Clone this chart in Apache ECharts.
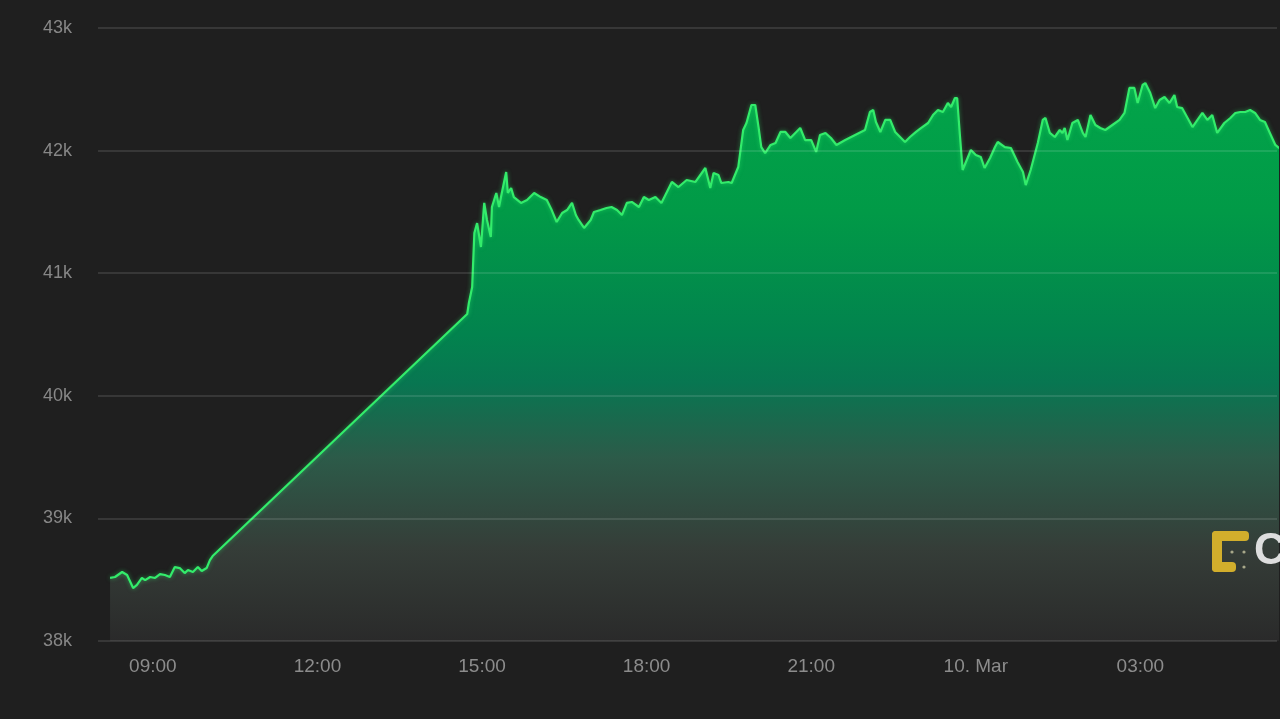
<!DOCTYPE html>
<html>
<head>
<meta charset="utf-8">
<script src="https://cdn.jsdelivr.net/npm/echarts@6/dist/echarts.min.js"></script>
<style>
html,body{margin:0;padding:0;background:#1f1f1f;}
#chart{width:1280px;height:719px;}
</style>
</head>
<body>
<div id="chart"></div>
<script>
// Hours since 00:00 on 9 March (values > 24 are on 10 March)
const hours = [
  8.22, 8.31, 8.44, 8.53, 8.64, 8.71, 8.80, 8.86, 8.95, 9.04, 9.13, 9.22, 9.31, 9.40, 9.49, 9.58, 9.64, 9.73, 9.82, 9.89, 9.98, 10.04, 10.09,
  14.73, 14.76, 14.82, 14.86, 14.91, 14.98, 15.04, 15.09, 15.16, 15.18, 15.26, 15.31, 15.36, 15.44, 15.47, 15.53, 15.58, 15.71, 15.82, 15.95,
  16.07, 16.18, 16.27, 16.36, 16.46, 16.55, 16.64, 16.71, 16.76, 16.86, 16.98, 17.04, 17.16, 17.27, 17.36, 17.46, 17.55, 17.64, 17.73, 17.86,
  17.95, 18.04, 18.16, 18.27, 18.46, 18.58, 18.73, 18.89, 19.07, 19.16, 19.22, 19.31, 19.36, 19.49, 19.55, 19.67, 19.76, 19.82, 19.91, 19.98,
  20.04, 20.09, 20.16, 20.26, 20.35, 20.44, 20.53, 20.62, 20.71, 20.80, 20.89, 21.00, 21.09, 21.16, 21.26, 21.36, 21.46, 21.62, 21.80, 21.98,
  22.07, 22.13, 22.18, 22.26, 22.35, 22.44, 22.53, 22.62, 22.71, 22.80, 22.91, 23.00, 23.13, 23.22, 23.31, 23.40, 23.49, 23.55, 23.62, 23.66,
  23.71, 23.76, 23.82, 23.91, 24.00, 24.09, 24.16, 24.26, 24.35, 24.40, 24.53, 24.64, 24.76, 24.86, 24.91, 25.00, 25.13, 25.22, 25.27, 25.35,
  25.44, 25.53, 25.58, 25.62, 25.67, 25.76, 25.86, 25.95, 26.00, 26.09, 26.18, 26.27, 26.36, 26.49, 26.62, 26.71, 26.80, 26.89, 26.95, 27.04,
  27.09, 27.18, 27.27, 27.35, 27.44, 27.53, 27.62, 27.67, 27.76, 27.86, 27.95, 28.04, 28.13, 28.22, 28.31, 28.40, 28.53, 28.64, 28.73, 28.82,
  28.91, 29.00, 29.09, 29.18, 29.27, 29.36, 29.46, 29.53
];
const prices = [
  38515, 38522, 38563, 38538, 38432, 38457, 38514, 38497, 38522, 38514, 38546, 38538, 38522, 38603, 38595, 38554, 38579, 38563, 38603, 38571, 38595, 38660, 38693,
  40667, 40757, 40887, 41328, 41409, 41214, 41573, 41434, 41295, 41540, 41654, 41540, 41654, 41825, 41654, 41695, 41621, 41573, 41597, 41654,
  41621, 41597, 41515, 41418, 41491, 41515, 41573, 41475, 41434, 41369, 41434, 41499, 41515, 41532, 41540, 41515, 41475, 41573, 41581, 41540,
  41621, 41597, 41621, 41573, 41744, 41703, 41760, 41744, 41858, 41695, 41817, 41801, 41736, 41744, 41736, 41866, 42168, 42225, 42372, 42372,
  42192, 42029, 41980, 42046, 42062, 42152, 42152, 42103, 42144, 42184, 42086, 42086, 41989, 42127, 42144, 42103, 42046, 42086, 42127, 42168,
  42315, 42331, 42233, 42152, 42250, 42250, 42152, 42111, 42070, 42111, 42152, 42184, 42225, 42290, 42331, 42315, 42388, 42356, 42429, 42429,
  42127, 41842, 41907, 42005, 41964, 41948, 41858, 41940, 42029, 42070, 42029, 42021, 41907, 41825, 41719, 41842, 42062, 42250, 42266, 42144,
  42111, 42168, 42144, 42184, 42086, 42225, 42250, 42144, 42111, 42290, 42209, 42184, 42168, 42209, 42250, 42307, 42511, 42511, 42388, 42535,
  42551, 42470, 42347, 42413, 42437, 42388, 42453, 42356, 42347, 42266, 42192, 42250, 42307, 42250, 42290, 42144, 42225, 42266, 42307, 42315,
  42315, 42331, 42307, 42250, 42233, 42144, 42046, 42021
];
const yTicks = [38000, 39000, 40000, 41000, 42000, 43000];
const xTickHours = [9, 12, 15, 18, 21, 24, 27];
const dayLabel = '10. Mar';

const data = hours.map((h, i) => [h, prices[i]]);

const chart = echarts.init(document.getElementById('chart'), null, {renderer: 'canvas'});
const font = '"Liberation Sans", Arial, Helvetica, sans-serif';

chart.setOption({
  backgroundColor: '#1f1f1f',
  animation: false,
  grid: {left: 98, right: 0, top: 28, bottom: 78, containLabel: false},
  xAxis: {
    type: 'value',
    min: 8,
    max: 29.49,
    interval: 1,
    axisLine: {show: false},
    axisTick: {show: false},
    splitLine: {show: false},
    axisLabel: {
      color: '#8c8c8c',
      fontFamily: font,
      fontSize: 19,
      margin: 16,
      showMinLabel: true,
      showMaxLabel: true,
      formatter: function (v) {
        if (Math.abs(v - Math.round(v)) > 1e-6) return '';
        const h = Math.round(v);
        if (xTickHours.indexOf(h) < 0) return '';
        if (h === 24) return dayLabel;
        const hh = h % 24;
        return (hh < 10 ? '0' : '') + hh + ':00';
      }
    }
  },
  yAxis: {
    type: 'value',
    z: 5,
    min: yTicks[0],
    max: yTicks[yTicks.length - 1],
    interval: 1000,
    axisLine: {show: false},
    axisTick: {show: false},
    splitLine: {lineStyle: {color: 'rgba(255,255,255,0.15)', width: 1.5}},
    axisLabel: {
      color: '#878787',
      fontFamily: font,
      fontSize: 18,
      margin: 26,
      formatter: function (v) { return (v / 1000) + 'k'; }
    }
  },
  series: [{
    type: 'line',
    data: data,
    showSymbol: false,
    smooth: false,
    clip: true,
    z: 2,
    lineStyle: {color: '#33ec6b', width: 2.2, shadowColor: 'rgba(50,240,110,0.5)', shadowBlur: 4},
    areaStyle: {
      origin: 'start',
      opacity: 1,
      color: {
        type: 'linear', x: 0, y: 28, x2: 0, y2: 641, global: true,
        colorStops: [
          {offset: 0, color: '#03a94b'},
          {offset: 0.3, color: '#019a47'},
          {offset: 0.5, color: '#02834e'},
          {offset: 0.58, color: '#087651'},
          {offset: 0.7, color: '#2c5b49'},
          {offset: 0.85, color: '#353d38'},
          {offset: 1, color: '#2a2a2a'}
        ]
      }
    }
  }],
  graphic: [
    {type: 'group', z: 100, children: [
      {type: 'rect', z: 100, shape: {x: 1212, y: 531, width: 10, height: 41, r: 4}, style: {fill: '#d2ae2c'}},
      {type: 'rect', z: 100, shape: {x: 1212, y: 531, width: 37, height: 10, r: 4}, style: {fill: '#d2ae2c'}},
      {type: 'rect', z: 100, shape: {x: 1212, y: 562, width: 24, height: 10, r: 4}, style: {fill: '#d2ae2c'}},
      {type: 'circle', z: 100, shape: {cx: 1232, cy: 552, r: 1.6}, style: {fill: '#a8a88a'}},
      {type: 'circle', z: 100, shape: {cx: 1244, cy: 552, r: 1.6}, style: {fill: '#a8a88a'}},
      {type: 'circle', z: 100, shape: {cx: 1244, cy: 567, r: 1.6}, style: {fill: '#a8a88a'}},
      {type: 'text', z: 100, x: 1254, y: 530, style: {text: 'C', fill: '#dedede', font: 'bold 44px ' + font}}
    ]}
  ]
});
</script>
</body>
</html>
